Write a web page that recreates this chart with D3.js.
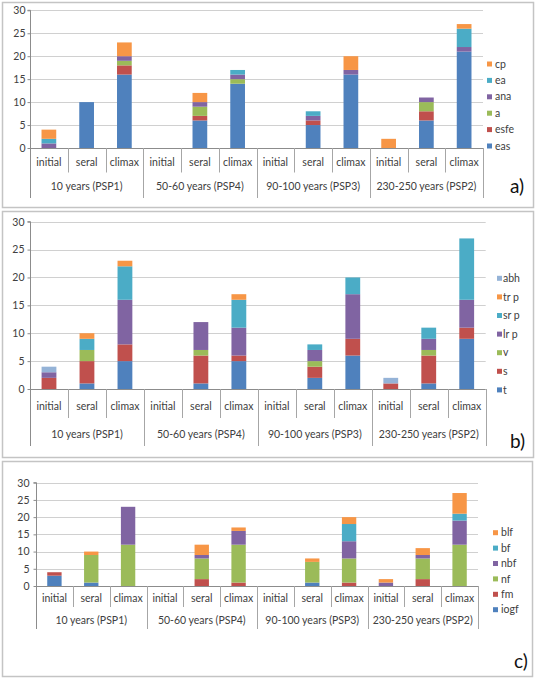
<!DOCTYPE html>
<html><head><meta charset="utf-8">
<script src="https://cdn.jsdelivr.net/npm/d3@7"></script>
<style>
html,body{margin:0;padding:0;background:#fff;}
svg{display:block;}
text{font-family:Lato,"Open Sans","Liberation Sans",sans-serif;}
</style></head>
<body>
<script>
// ---- data ----
const groups = ["10 years (PSP1)", "50-60 years (PSP4)", "90-100 years (PSP3)", "230-250 years (PSP2)"];
const stages = ["initial", "seral", "climax"];
const yTicks = [0, 5, 10, 15, 20, 25, 30];

// panel a) — bar order: PSP1 initial/seral/climax, PSP4 ..., PSP3 ..., PSP2 ...
const seriesA = ["eas", "esfe", "a", "ana", "ea", "cp"];
const eas  = [0, 10, 16, 0, 6, 14, 0, 5, 16, 0, 6, 21];
const esfe = [0, 0, 2, 0, 1, 0, 0, 1, 0, 0, 2, 0];
const aVal = [0, 0, 1, 0, 2, 1, 0, 0, 0, 0, 2, 0];
const ana  = [1, 0, 1, 0, 1, 1, 0, 1, 1, 0, 1, 1];
const ea   = [1, 0, 0, 0, 0, 1, 0, 1, 0, 0, 0, 4];
const cp   = [2, 0, 3, 0, 2, 0, 0, 0, 3, 2, 0, 1];

// panel b)
const seriesB = ["t", "s", "v", "lr p", "sr p", "tr p", "abh"];
const tVal = [0, 1, 5, 0, 1, 5, 0, 2, 6, 0, 1, 9];
const sVal = [2, 4, 3, 0, 5, 1, 0, 2, 3, 1, 5, 2];
const vVal = [0, 2, 0, 0, 1, 0, 0, 1, 0, 0, 1, 0];
const lrp  = [1, 0, 8, 0, 5, 5, 0, 2, 8, 0, 2, 5];
const srp  = [0, 2, 6, 0, 0, 5, 0, 1, 3, 0, 2, 11];
const trp  = [0, 1, 1, 0, 0, 1, 0, 0, 0, 0, 0, 0];
const abh  = [1, 0, 0, 0, 0, 0, 0, 0, 0, 1, 0, 0];

// panel c)
const seriesC = ["iogf", "fm", "nf", "nbf", "bf", "blf"];
const iogf = [3, 1, 0, 0, 0, 0, 0, 1, 0, 0, 0, 0];
const fm   = [1, 0, 0, 0, 2, 1, 0, 0, 1, 0, 2, 0];
const nf   = [0, 8, 12, 0, 6, 11, 0, 6, 7, 0, 6, 12];
const nbf  = [0, 0, 11, 0, 1, 4, 0, 0, 5, 1, 1, 7];
const bf   = [0, 0, 0, 0, 0, 0, 0, 0, 5, 0, 0, 2];
const blf  = [0, 1, 0, 0, 3, 1, 0, 1, 2, 1, 2, 6];

// ---- styles ----
const blue = "#4F81BD", red = "#C0504D", green = "#9BBB59", purple = "#8064A2",
      teal = "#4BACC6", orange = "#F79646", lightBlue = "#95B3D7";

const panels = [
  { tag: "a)", names: seriesA, values: [eas, esfe, aVal, ana, ea, cp],
    colors: [blue, red, green, purple, teal, orange],
    box: [2, 2, 533, 207], left: 30, right: 483, y0: 148, y30: 10.3,
    catY: 166, grpY: 190, catSep: 172.5, grpSep: 198, tickGap: 5,
    legX: 487, legTextX: 495, legTop: 64, legStep: 16.4, tagX: 510, tagY: 193 },
  { tag: "b)", names: seriesB, values: [tVal, sVal, vVal, lrp, srp, trp, abh],
    colors: [blue, red, green, purple, teal, orange, lightBlue],
    box: [2, 211, 533, 457], left: 30, right: 485.7, y0: 389, y30: 221.7,
    catY: 409.5, grpY: 437.5, catSep: 418, grpSep: 446, tickGap: 6,
    legX: 497, legTextX: 503, legTop: 278.3, legStep: 18.6, tagX: 510, tagY: 448 },
  { tag: "c)", names: seriesC, values: [iogf, fm, nf, nbf, bf, blf],
    colors: [blue, red, green, purple, teal, orange],
    box: [2, 461, 532, 676], left: 36, right: 478, y0: 586, y30: 482.7,
    catY: 602, grpY: 623.5, catSep: 607, grpSep: 629, tickGap: 7,
    legX: 493, legTextX: 501, legTop: 532.7, legStep: 15.4, tagX: 514, tagY: 668 }
];

const svg = d3.select("body").append("svg").attr("width", 535).attr("height", 678);
const textColor = "#404040";
const keys = [];
groups.forEach(g => stages.forEach(s => keys.push(g + "|" + s)));

panels.forEach(p => {
  const g = svg.append("g");
  // panel frame
  g.append("rect").attr("x", p.box[0] + 0.5).attr("y", p.box[1] + 0.5)
    .attr("width", p.box[2] - p.box[0]).attr("height", p.box[3] - p.box[1])
    .attr("fill", "#fff").attr("stroke", "#c4c4c4").attr("stroke-width", 1.5);

  const x = d3.scaleBand().domain(keys).range([p.left, p.right]).paddingInner(0).paddingOuter(0);
  const y = d3.scaleLinear().domain([0, 30]).range([p.y0, p.y30]);

  // gridlines
  g.append("g").selectAll("line").data(yTicks.filter(t => t > 0)).join("line")
    .attr("x1", p.left).attr("x2", p.right)
    .attr("y1", d => Math.round(y(d)) + 0.5).attr("y2", d => Math.round(y(d)) + 0.5)
    .attr("stroke", "#d0d0d0").attr("stroke-width", 1);

  // y axis
  const ax = g.append("g").attr("transform", `translate(${p.left + 0.5},0)`)
    .call(d3.axisLeft(y).tickValues(yTicks).tickSize(3).tickPadding(p.tickGap - 3).tickFormat(d3.format("d")));
  ax.select(".domain").attr("stroke", "#8c8c8c").attr("d", `M-3,${p.y30}H0V${p.grpSep}`);
  ax.selectAll(".tick line").attr("stroke", "#8c8c8c");
  ax.selectAll(".tick text").attr("fill", textColor).attr("font-size", 10.5)
    .attr("font-family", "Lato,'Open Sans',sans-serif");

  // stacked bars
  const rows = keys.map((k, i) => {
    const r = { key: k };
    p.names.forEach((n, j) => r[n] = p.values[j][i]);
    return r;
  });
  const stacked = d3.stack().keys(p.names)(rows);
  const bw = x.bandwidth() * 0.39;
  stacked.forEach((layer, j) => {
    g.append("g").attr("fill", p.colors[j]).selectAll("rect")
      .data(layer.filter(d => d[1] > d[0])).join("rect")
      .attr("x", d => x(d.data.key) + (x.bandwidth() - bw) / 2)
      .attr("width", bw)
      .attr("y", d => y(d[1]))
      .attr("height", d => y(d[0]) - y(d[1]));
  });

  // x baseline
  g.append("line").attr("x1", p.left).attr("x2", p.right)
    .attr("y1", p.y0 + 0.5).attr("y2", p.y0 + 0.5).attr("stroke", "#8c8c8c");

  // category separators & labels
  keys.forEach((k, i) => {
    const xs = Math.round(x(k) + x.bandwidth()) + 0.5;
    const isGroupEnd = (i % 3 === 2);
    g.append("line").attr("x1", xs).attr("x2", xs)
      .attr("y1", p.y0).attr("y2", isGroupEnd ? p.grpSep : p.catSep)
      .attr("stroke", "#a6a6a6");
    g.append("text").attr("x", x(k) + x.bandwidth() / 2).attr("y", p.catY)
      .attr("text-anchor", "middle").attr("font-size", 10.5).attr("fill", textColor)
      .text(k.split("|")[1]);
  });
  groups.forEach((gr, gi) => {
    const x0 = x(gr + "|" + stages[0]);
    const x1 = x(gr + "|" + stages[2]) + x.bandwidth();
    g.append("text").attr("x", (x0 + x1) / 2).attr("y", p.grpY)
      .attr("text-anchor", "middle").attr("font-size", 10.5).attr("fill", textColor)
      .text(gr);
  });

  // legend (reverse order: last series on top)
  const legNames = p.names.slice().reverse();
  const legColors = p.colors.slice().reverse();
  legNames.forEach((n, i) => {
    const cy = p.legTop + i * p.legStep;
    g.append("rect").attr("x", p.legX).attr("y", cy - 2.5).attr("width", 5).attr("height", 5)
      .attr("fill", legColors[i]);
    g.append("text").attr("x", p.legTextX).attr("y", cy).attr("dy", "0.35em")
      .attr("font-size", 10.5).attr("fill", textColor).text(n);
  });

  // panel tag
  g.append("text").attr("x", p.tagX).attr("y", p.tagY)
    .attr("font-family", "'Liberation Serif','DejaVu Serif',serif").attr("font-size", 19)
    .attr("fill", "#111").text(p.tag);
});
</script>
</body></html>
